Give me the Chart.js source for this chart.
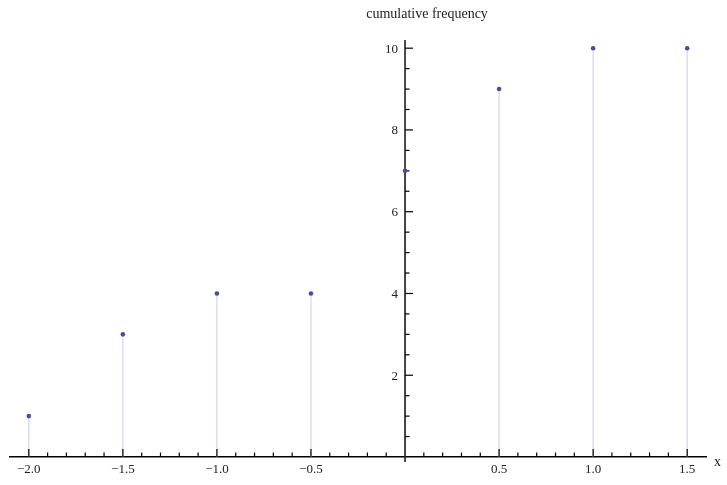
<!DOCTYPE html>
<html><head><meta charset="utf-8">
<script src="https://cdn.jsdelivr.net/npm/chart.js@4"></script>
<style>html,body{margin:0;padding:0;background:#fff}#wrap{width:727px;height:485px}</style>
</head><body><div id="wrap"><canvas id="c" width="727" height="485"></canvas></div>
<script>
const xValues = [-2.0, -1.5, -1.0, -0.5, 0.0, 0.5, 1.0, 1.5];
const cumFreq = [1, 3, 4, 4, 7, 9, 10, 10];
const xTickValues = [-2.0, -1.5, -1.0, -0.5, 0.5, 1.0, 1.5];
const yTickValues = [2, 4, 6, 8, 10];
const yAxisTitle = 'cumulative frequency';
const xAxisTitle = 'x';

const points = xValues.map((x, i) => ({x: x, y: cumFreq[i]}));
const stems = [];
xValues.forEach((x, i) => { stems.push({x: x, y: 0}, {x: x, y: cumFreq[i]}, {x: x, y: null}); });

const fmt = v => (v < 0 ? '\u2212' : '') + Math.abs(v).toFixed(1);
const FONT = '"Liberation Serif", "DejaVu Serif", serif';

const axesPlugin = {
  id: 'mmaAxes',
  beforeDatasetDraw(chart, args) {
    if (args.index !== 1) return;
    const ctx = chart.ctx, xs = chart.scales.x, ys = chart.scales.y;
    const x0 = xs.getPixelForValue(0), y0 = ys.getPixelForValue(0);
    ctx.save();
    ctx.strokeStyle = '#000';
    ctx.lineWidth = 1.4;
    // y axis line drawn over the stems, under the points
    ctx.beginPath(); ctx.moveTo(x0, ys.top); ctx.lineTo(x0, y0 + 5); ctx.stroke();
    ctx.lineWidth = 1.2;
    // x ticks (every 0.1, major every 0.5)
    for (let k = -20; k <= 15; k++) {
      if (k === 0) continue;
      const v = k / 10;
      const px = xs.getPixelForValue(v);
      const len = (k % 5 === 0) ? 8 : 4.5;
      ctx.beginPath(); ctx.moveTo(px, y0); ctx.lineTo(px, y0 - len); ctx.stroke();
    }
    // y ticks (every 0.5, major every 2)
    for (let k = 1; k <= 20; k++) {
      const v = k / 2;
      const py = ys.getPixelForValue(v);
      const len = (k % 4 === 0) ? 8 : 4.5;
      ctx.beginPath(); ctx.moveTo(x0, py); ctx.lineTo(x0 + len, py); ctx.stroke();
    }
    ctx.restore();
  },
  afterDraw(chart) {
    const ctx = chart.ctx, xs = chart.scales.x, ys = chart.scales.y;
    const x0 = xs.getPixelForValue(0), y0 = ys.getPixelForValue(0);
    ctx.save();
    ctx.fillStyle = '#222';
    // y tick labels
    ctx.font = '13px ' + FONT;
    ctx.textAlign = 'right';
    ctx.textBaseline = 'middle';
    yTickValues.forEach(v => ctx.fillText(String(v), x0 - 7, ys.getPixelForValue(v) + 1));
    // axis titles
    ctx.font = '14px ' + FONT;
    ctx.textBaseline = 'alphabetic';
    ctx.textAlign = 'center';
    ctx.fillText(yAxisTitle, x0 + 22, 18);
    ctx.textAlign = 'left';
    ctx.fillText(xAxisTitle, xs.right + 8, y0 + 9);
    ctx.restore();
  }
};

new Chart(document.getElementById('c'), {
  type: 'scatter',
  data: {
    datasets: [
      {
        type: 'line', data: stems, borderColor: '#d4d4ee', borderWidth: 1.2,
        pointRadius: 0, spanGaps: false, fill: false, tension: 0, order: 2
      },
      {
        data: points, backgroundColor: '#4a4aa6', borderColor: '#4a4aa6',
        pointRadius: 2.3, borderWidth: 0, order: 1
      }
    ]
  },
  plugins: [axesPlugin],
  options: {
    responsive: false, animation: false, devicePixelRatio: 1,
    layout: {padding: {left: 10, right: 21, top: 40, bottom: 28}},
    plugins: {legend: {display: false}, tooltip: {enabled: false}, title: {display: false}},
    scales: {
      x: {
        type: 'linear', min: -2.1, max: 1.6, position: {y: 0},
        grid: {display: false, drawTicks: false},
        border: {display: true, color: '#000', width: 1.4},
        afterBuildTicks: s => { s.ticks = xTickValues.map(v => ({value: v})); },
        ticks: {
          autoSkip: false, maxRotation: 0, padding: 5, color: '#222',
          font: {family: FONT, size: 13},
          callback: v => fmt(v)
        }
      },
      y: {
        type: 'linear', min: 0, max: 10.2, position: {x: 0},
        grid: {display: false, drawTicks: false},
        border: {display: false},
        afterBuildTicks: s => { s.ticks = yTickValues.map(v => ({value: v})); },
        ticks: {display: false}
      }
    }
  }
});
</script>
</body></html>
